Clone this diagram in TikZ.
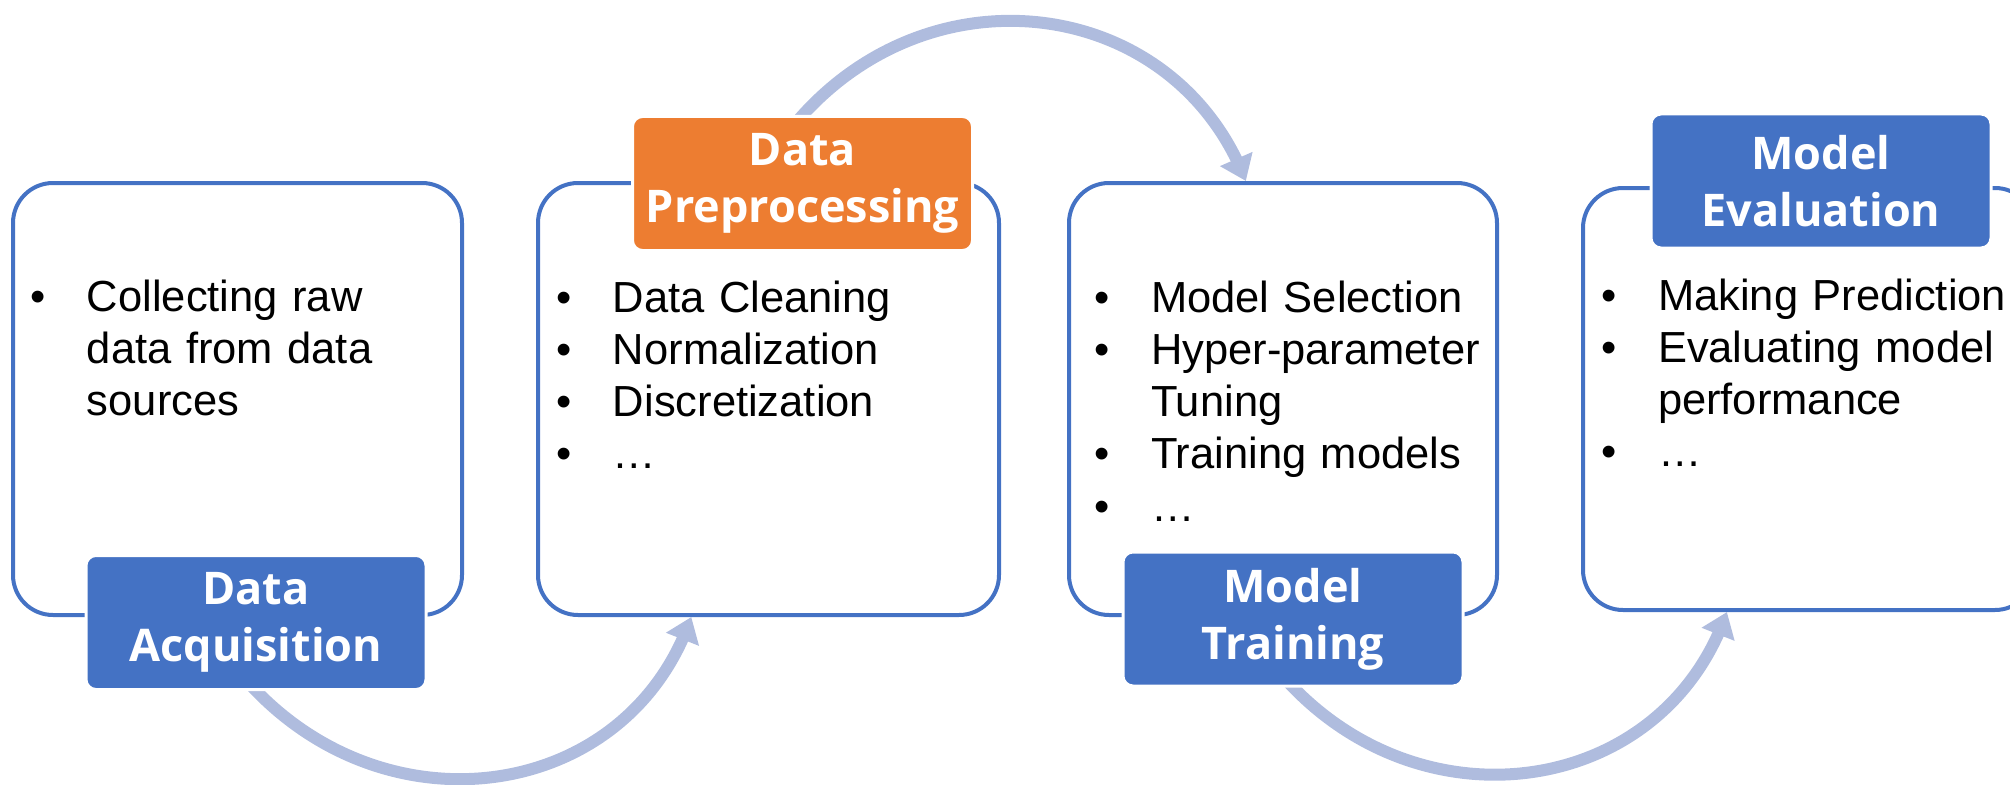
\documentclass[tikz,border=0pt]{standalone}
\usepackage{fontspec}
\setmainfont{Liberation Sans}
\newfontfamily\headfont{Open Sans}
\usetikzlibrary{arrows.meta,bending,calc,backgrounds}
\setlength{\parindent}{0pt}

\definecolor{frameblue}{RGB}{68,114,196}
\definecolor{headorange}{RGB}{237,125,49}
\definecolor{flowarrow}{RGB}{175,188,222}

% bullet item and continuation line of a bullet item
\newcommand{\itm}[1]{\makebox[28.3pt][l]{\textbullet}#1\par}
\newcommand{\cnt}[1]{\hspace*{28.3pt}#1\par}

\tikzset{
  stage/.style={draw=frameblue, line width=2pt, rounded corners=20pt, inner sep=0pt},
  headbox/.style={rounded corners=5pt, fill=frameblue, draw=white, line width=1.5pt,
    text=white, font=\headfont\bfseries\fontsize{22.5pt}{28.5pt}\selectfont,
    align=center, minimum width=170pt, minimum height=67pt, inner sep=0pt},
  listtxt/.style={anchor=base west, inner sep=0pt, text width=230pt, align=left,
    font=\fontsize{21.75pt}{26.15pt}\selectfont},
  flow/.style={draw=flowarrow, line width=6pt, shorten <=-6pt,
    -{Triangle[width=17pt,length=12pt]}}
}

\begin{document}
\begin{tikzpicture}[x=0.5pt,y=0.5pt]
\path[use as bounding box] (0,0) rectangle (2010,784);
\clip (0,0) rectangle (2010,784);

% stage frames
\node[stage, minimum width=224.5pt, minimum height=216pt] (b1) at (237.5,385) {};
\node[stage, minimum width=230.5pt, minimum height=216pt] (b2) at (768.5,385) {};
\node[stage, minimum width=214pt,   minimum height=216pt] (b3) at (1283,385) {};
\node[stage, minimum width=226pt,   minimum height=211pt] (b4) at (1809,385) {};

% stage titles
\node[headbox] (h1) at (256,161.5) {Data\\Acquisition};
\node[headbox, fill=headorange] (h2) at (802.5,600.5) {Data\\Preprocessing};
\node[headbox] (h3) at (1293,165) {Model\\Training};
\node[headbox] (h4) at (1821,603) {Model\\Evaluation};

% stage contents
\node[listtxt] (t1) at (30,473) {\itm{Collecting raw}\cnt{data from data}\cnt{sources}};
\node[listtxt] (t2) at (556,472) {\itm{Data Cleaning}\itm{Normalization}\itm{Discretization}\itm{…}};
\node[listtxt] (t3) at (1094,472) {\itm{Model Selection}\itm{Hyper-parameter}\cnt{Tuning}\itm{Training models}\itm{…}};
\node[listtxt] (t4) at (1601,474) {\itm{Making Prediction}\itm{Evaluating model}\cnt{performance}\itm{…}};

% arrow ends on the frames
\coordinate (e1) at ($(b2.south west)!0.334!(b2.south east)$);
\coordinate (e2) at ($(b3.north west)!0.414!(b3.north east)$);
\coordinate (e3) at ($(b4.south west)!0.32!(b4.south east)$);

\begin{pgfonlayer}{background}
\draw[flow] (h1.south) to[out=-48,in=251,looseness=1.13] (e1);
\draw[flow] (h2.north) to[out=50,in=111,looseness=1.13] (e2);
\draw[flow] (h3.south) to[out=-48,in=251,looseness=1.13] (e3);
\end{pgfonlayer}
\end{tikzpicture}
\end{document}
